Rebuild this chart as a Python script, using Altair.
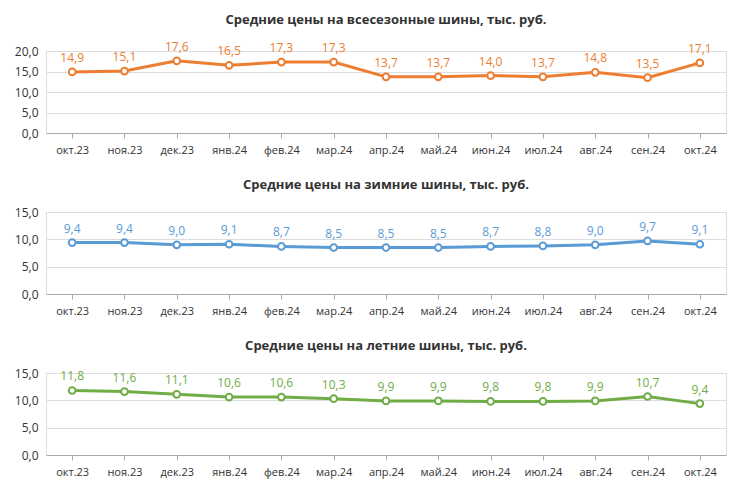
import altair as alt
import pandas as pd

MONTHS = ["окт.23", "ноя.23", "дек.23", "янв.24", "фев.24", "мар.24", "апр.24",
          "май.24", "июн.24", "июл.24", "авг.24", "сен.24", "окт.24"]
ALLSEASON = [14.9, 15.1, 17.6, 16.5, 17.3, 17.3, 13.7, 13.7, 14.0, 13.7, 14.8, 13.5, 17.1]
WINTER = [9.4, 9.4, 9.0, 9.1, 8.7, 8.5, 8.5, 8.5, 8.7, 8.8, 9.0, 9.7, 9.1]
SUMMER = [11.8, 11.6, 11.1, 10.6, 10.6, 10.3, 9.9, 9.9, 9.8, 9.8, 9.9, 10.7, 9.4]

PANELS = [
    ("Средние цены на всесезонные шины, тыс. руб.", ALLSEASON, "#ED7D31", 20, [0, 5, 10, 15, 20]),
    ("Средние цены на зимние шины, тыс. руб.", WINTER, "#5B9BD5", 15, [0, 5, 10, 15]),
    ("Средние цены на летние шины, тыс. руб.", SUMMER, "#70AD47", 15, [0, 5, 10, 15]),
]


def panel(title, values, color, ymax, ticks):
    df = pd.DataFrame({
        "month": MONTHS,
        "value": values,
        "label": [f"{v:.1f}".replace(".", ",") for v in values],
    })
    x = alt.X("month:N", sort=MONTHS, title=None,
              axis=alt.Axis(labelAngle=0, labelFontSize=11, labelColor="#333",
                            domainColor="#aaa", tickColor="#aaa", bandPosition=0,
                            tickSize=5, labelPadding=6))
    y = alt.Y("value:Q", title=None, scale=alt.Scale(domain=[0, ymax]),
              axis=alt.Axis(values=ticks, labelExpr="replace(format(datum.value, '.1f'), '.', ',')",
                            labelFontSize=12, labelColor="#333", grid=True, gridColor="#ddd",
                            domain=False, ticks=False, labelPadding=8))
    base = alt.Chart(df).encode(x=x, y=y)
    line = base.mark_line(color=color, strokeWidth=3)
    pts = base.mark_point(filled=True, fill="white", stroke=color, strokeWidth=2, size=45, opacity=1)
    txt = base.mark_text(dy=-14, color=color, fontSize=12).encode(text="label:N")
    return alt.layer(line, pts, txt).properties(
        width=680, height=82,
        title=alt.TitleParams(title, fontSize=13, fontWeight="bold", color="#333", offset=14),
    )


chart = alt.vconcat(*[panel(*p) for p in PANELS], spacing=22).configure_view(
    stroke=None
).configure(font="Open Sans").configure_concat(spacing=22)

chart.save("out.html", embed_options={"renderer": "svg", "actions": False})
